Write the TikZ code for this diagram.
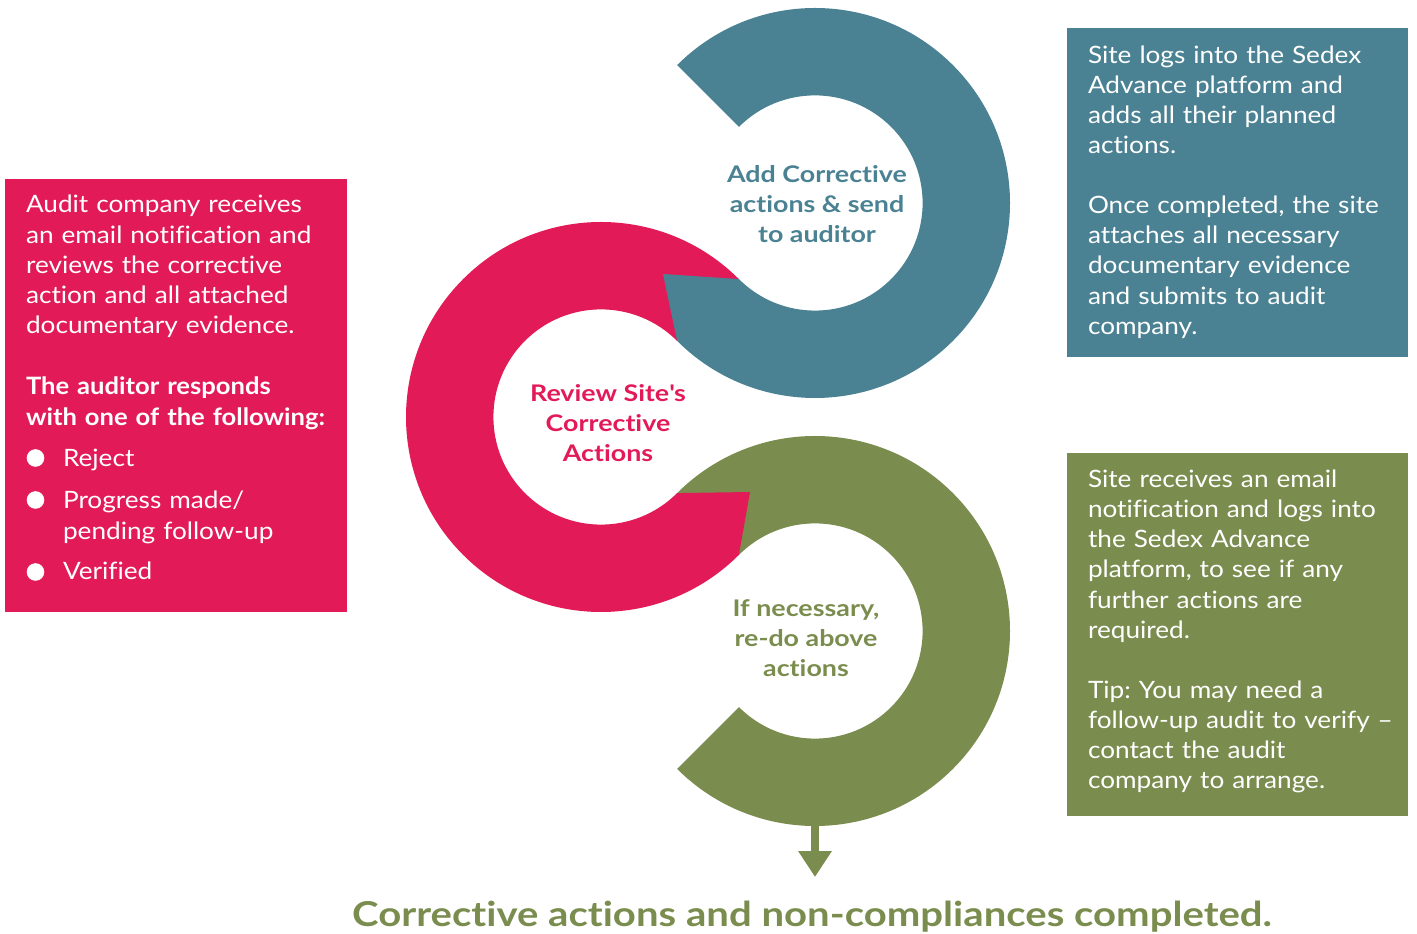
\documentclass[tikz,border=0pt]{standalone}
\usepackage{fontspec}
\setmainfont{Lato}[FakeStretch=1.095, Ligatures={NoCommon}, BoldFeatures={FakeStretch=1.07}]
\newfontfamily\labelfont{Lato}[FakeStretch=1.17, Ligatures={NoCommon}]
\usetikzlibrary{calc,arrows.meta}
\definecolor{cblue}{HTML}{4A8293}
\definecolor{cred}{HTML}{E21B58}
\definecolor{cgreen}{HTML}{7A8C4E}
\frenchspacing
\begin{document}
\begin{tikzpicture}[x=1bp,y=1bp,
  bodytext/.style={anchor=north west, inner sep=0, outer sep=0, align=left, text width=335bp, text=white, font=\fontsize{24}{30.2}\selectfont},
  bullettext/.style={anchor=north west, inner sep=0, outer sep=0, align=left, text width=280bp, text=white, font=\fontsize{24}{30.2}\selectfont},
  ringlabel/.style={anchor=north, inner sep=0, outer sep=0, align=center, font=\labelfont\fontsize{23}{30}\selectfont\bfseries},
  bulletdot/.style={circle, fill=white, minimum size=17.6bp, inner sep=0}
]
\useasboundingbox (0,0) rectangle (1417,933);
% ring centres
\coordinate (bc) at (815,730);
\coordinate (rc) at (601,516);
\coordinate (gc) at (815,302);
\def\Ro{195}
\def\Ri{107.6}
% green ring
\fill[cgreen] ($(gc)+(135:\Ro)$) arc[start angle=135, end angle=-135, radius=\Ro]
  -- ($(gc)+(-135:\Ri)$) arc[start angle=-135, end angle=135, radius=\Ri] -- cycle;
% red ring with its wedge end
\fill[cred] ($(rc)+(45:\Ro)$) arc[start angle=45, end angle=315, radius=\Ro]
  -- (750,441) -- ($(rc)+(315:\Ri)$) arc[start angle=315, end angle=45, radius=\Ri] -- cycle;
% blue ring with its wedge end
\fill[cblue] ($(bc)+(135:\Ro)$) arc[start angle=135, end angle=-135, radius=\Ro]
  -- (663,659) -- ($(bc)+(-135:\Ri)$) arc[start angle=-135, end angle=135, radius=\Ri] -- cycle;

% ring labels
\node[ringlabel, text=cblue] (lblue) at (817,771) {\strut Add Corrective\\actions \& send\\to auditor};
\node[ringlabel, text=cred] (lred) at (608,552.5) {\strut Review Site\textquotesingle s\\Corrective\\Actions};
\node[ringlabel, text=cgreen] (lgreen) at (806,337.5) {\strut If necessary,\\re-do above\\actions};

% arrow to final text
\coordinate (ringbot) at (815,110);
\coordinate (arrowtip) at (815,56);
\draw[cgreen, line width=8bp, -{Triangle[width=32bp,length=26bp]}] (ringbot) -- (arrowtip);
\node[anchor=base, inner sep=0, text=cgreen, font=\labelfont\fontsize{34.4}{40}\selectfont\bfseries] (final) at (812,6.3) {Corrective actions and non-compliances completed.};

% left red box
\fill[cred] (5,321) rectangle (347,754);
\node[bodytext] (ltext1) at (26,741.1) {\strut Audit company receives\\an email notification and\\reviews the corrective\\action and all attached\\documentary evidence.};
\node[bodytext, font=\fontsize{24}{30.2}\selectfont\bfseries] (ltext2) at (26,559.1) {\strut The auditor responds\\with one of the following:};
\node[bulletdot] (d1) at (35.5,475) {};
\node[bulletdot] (d2) at (35.5,433) {};
\node[bulletdot] (d3) at (35.5,361) {};
\node[bullettext] (b1) at (63,487.1) {\strut Reject};
\node[bullettext] (b2) at (63,445.1) {\strut Progress made/\\pending follow-up};
\node[bullettext] (b3) at (63,374.1) {\strut Verified};

% right blue box
\fill[cblue] (1067,576) rectangle (1408,905);
\node[bodytext] (rtext1) at (1088,890.8) {\strut Site logs into the Sedex\\Advance platform and\\adds all their planned\\actions.\\[30.2bp]Once completed, the site\\attaches all necessary\\documentary evidence\\and submits to audit\\company.};

% right green box
\fill[cgreen] (1067,117) rectangle (1408,480);
\node[bodytext] (rtext2) at (1088,466.4) {\strut Site receives an email\\notification and logs into\\the Sedex Advance\\platform, to see if any\\further actions are\\required.\\[30.2bp]Tip: You may need a\\follow-up audit to verify –\\contact the audit\\company to arrange.};
\end{tikzpicture}
\end{document}
